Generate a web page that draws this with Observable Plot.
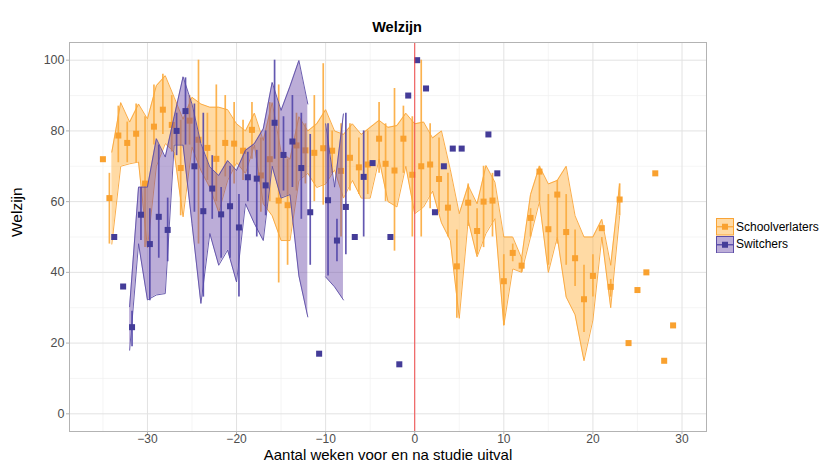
<!DOCTYPE html>
<html>
<head>
<meta charset="utf-8">
<script src="https://cdn.jsdelivr.net/npm/d3@7"></script>
<script src="https://cdn.jsdelivr.net/npm/@observablehq/plot@0.6"></script>
<style>
  body { margin: 0; background: #fff; }
  #wrap { position: relative; width: 820px; height: 466px; font-family: "Liberation Sans", Arial, Helvetica, sans-serif; }
  #wrap svg { display: block; }
  #legend { position: absolute; left: 716px; top: 218px; font-size: 12px; color: #000; }
  #legend .row { display: flex; align-items: center; height: 17.5px; }
  #legend .row svg { margin-right: 2px; }
</style>
</head>
<body>
<div id="wrap"><div id="legend"></div></div>
<script>
// ---- Schoolverlaters: one entry per week from -35 to 29 ----
const weeksS = [-35,-34,-33,-32,-31,-30,-29,-28,-27,-26,-25,-24,-23,-22,-21,-20,-19,-18,-17,-16,
  -15,-14,-13,-12,-11,-10,-9,-8,-7,-6,-5,-4,-3,-2,-1,0,1,2,3,4,
  5,6,7,8,9,10,11,12,13,14,15,16,17,18,19,20,21,22,23,24,25,26,27,28,29];
const meanS = [72,61,78.7,76.6,79.2,65.1,81.2,86,81.7,69.5,82.9,77.5,75.2,72.1,76.6,76.4,74.4,80.3,67.4,72,
  60.3,59,75.9,74.5,73.8,75.1,74.4,68.7,72.4,69.7,70.5,77.8,70.7,68.8,77.8,67.6,70,70.5,66.4,58.3,
  41.7,59.7,51.7,60,60.3,37.5,45.5,41.9,55.4,68.5,52.2,62,51.4,44,32.4,39,52.5,35.9,60.6,20,35,40,68,15,25];
const barLoS = [null,48,71,71,71,47,76,79,74,56,76,48,66,60,67,65,66,72,57,60,
  37,42,63,65,60,59,68,50,63,62,62,68,60,46,68,50,50,58,57,50,
  27,53,45,47,50,25,43,40,50,60,42,48,42,36,23,33,null,33,56,null,null,null,null,null,null];
const barHiS = [null,68,87,82.5,87.6,84,93,96,90,83,90,100,85,93,90,88,83,88,78,88,
  93,72,85,82,90,99,80,82,82,78,80,88,82,92,87,84,100,82,78,68,
  52,65,58,70,68,45,48,44,58,70,62,66,62,52,42,45,null,38,65,null,null,null,null,null,null];
const ribLoS = [null,48,70,70.7,71.2,47,70,76.4,74,55.7,75.4,68.8,64,57,66,71,68,76,59.4,56,
  49,49,66,68,64,65,69,61,66,61,61,72,60,58.5,70,56.6,58.5,63,54,49,
  27,54.7,44.4,51,55.2,25,41,40,50,60,40,50,33,28,15,26.5,50,30,56,null,null,null,null,null,null];
const ribHiS = [null,74,88,82.5,87.6,83.4,92.8,95.6,89.5,83.3,89.5,87.6,86.7,86.7,86,82,80,85,77.3,88,
  74,72,84,80,82,86,80,79,82,79,81,83,81,81.5,85,82,82.5,78,80,69,
  56.6,64.6,59.4,70.2,65.5,50,50,44,62,70,65,66,70,56,50,50,55,42,65,null,null,null,null,null,null];

// ---- Switchers ----
const weeksW = [-34,-33,-32,-31,-30,-29,-28,-27,-26,-25,-24,-23,-22,-21,-20,-19,-18,-17,-16,-15,
  -14,-13,-12,-11,-10,-9,-8,-7,-6,-5,-3,-2,-1,0,1,2,3,4,5,8,9];
const meanW = [50,36,24.5,56.3,48,55.7,52,80,85.6,70,57.3,63.7,56.4,58.7,52.7,66.9,66.5,64.6,82.3,73.2,
  77,69.5,57,17,60.4,49,58.5,50,67,70.9,50,14,90,100,92,57,70,75,75,79,68];
const barLoW = [null,null,19,49,32,44,43,73,76,57,33,55,44,44,33,60,50,56,72,63,
  64,55,42,null,39,43,45,null,50,null,null,null,null,null,null,null,null,null,null,null,null];
const barHiW = [null,null,29,64,58,76,61,85,95,87.6,85,73,64,70,62,74,74.5,80,100,84,
  90,85,79,null,82,55,85,null,80,null,null,null,null,null,null,null,null,null,null,null,null];
const ribLoW = [null,null,18,48.1,32.2,33.6,34,76,76,53.8,31.2,51,42,46.3,37.3,59.4,53.8,49,70,61,
  62,39,27.4,null,38.7,35.9,32.2,null,null,null,null,null,null,null,null,null,null,null,null,null,null];
const ribHiW = [null,null,30.3,64.1,64.1,77.8,72.6,84,95.3,87.6,76.4,69.8,67.4,71.6,68.8,74.5,76.4,80.6,93.7,85.8,
  92.6,99.9,87.6,null,82,64.1,84.8,null,null,null,null,null,null,null,null,null,null,null,null,null,null];

// ---- axes ----
const xTicks = [-30,-20,-10,0,10,20,30];
const xMinor = [-35,-25,-15,-5,5,15,25];
const yTicks = [0,20,40,60,80,100];
const yMinor = [10,30,50,70,90];

const groups = ["Schoolverlaters", "Switchers"];
const colors = {
  Schoolverlaters: {point: "#f9a12f", bar: "#fbaa3c", fill: "#ffa726", line: "#f9a436", opacity: 0.42},
  Switchers: {point: "#443c98", bar: "#5246a8", fill: "#6a4aa8", line: "#5b4ca6", opacity: 0.45}
};

// side-by-side offset within a week when both groups are present
const dodge = 0.27;
const setW = new Set(weeksW);
const school = weeksS.map((w, i) => ({
  week: w, xpos: w + (setW.has(w) ? -dodge : 0),
  mean: meanS[i], lo: barLoS[i], hi: barHiS[i], rlo: ribLoS[i], rhi: ribHiS[i]
}));
const switchers = weeksW.map((w, i) => ({
  week: w, xpos: w + dodge,
  mean: meanW[i], lo: barLoW[i], hi: barHiW[i], rlo: ribLoW[i], rhi: ribHiW[i]
}));

function groupMarks(data, c) {
  return [
    Plot.areaY(data, {x: "week", y1: "rlo", y2: "rhi", fill: c.fill, fillOpacity: c.opacity}),
    Plot.lineY(data, {x: "week", y: "rhi", stroke: c.line, strokeWidth: 1, strokeOpacity: 0.9}),
    Plot.lineY(data, {x: "week", y: "rlo", stroke: c.line, strokeWidth: 1, strokeOpacity: 0.9}),
    Plot.ruleX(data, {filter: d => d.lo != null && d.hi != null, x: "xpos", y1: "lo", y2: "hi",
      stroke: c.bar, strokeWidth: 1.7, strokeOpacity: 0.9}),
    Plot.dot(data, {x: "xpos", y: "mean", symbol: "square", r: 3.4, fill: c.point, stroke: "none"})
  ];
}

const chart = Plot.plot({
  width: 820,
  height: 466,
  marginLeft: 69,
  marginRight: 114,
  marginTop: 42,
  marginBottom: 35,
  x: {domain: [-38.75, 32.75]},
  y: {domain: [-5, 105]},
  style: {fontFamily: "'Liberation Sans', Arial, Helvetica, sans-serif", background: "#fff", overflow: "visible"},
  marks: [
    Plot.gridX(xMinor, {stroke: "#f0f0f0", strokeOpacity: 1, strokeWidth: 0.7}),
    Plot.gridY(yMinor, {stroke: "#f0f0f0", strokeOpacity: 1, strokeWidth: 0.7}),
    Plot.gridX(xTicks, {stroke: "#e2e2e2", strokeOpacity: 1, strokeWidth: 1}),
    Plot.gridY(yTicks, {stroke: "#e2e2e2", strokeOpacity: 1, strokeWidth: 1}),
    ...groupMarks(school, colors.Schoolverlaters),
    ...groupMarks(switchers, colors.Switchers),
    Plot.ruleX([0], {stroke: "#f2494a", strokeWidth: 1}),
    Plot.frame({stroke: "#b3b3b3", strokeWidth: 1}),
    Plot.axisX(xTicks, {tickSize: 3, tickPadding: 0, fontSize: 12, stroke: "#b3b3b3", fill: "#4d4d4d", label: null}),
    Plot.axisY(yTicks, {tickSize: 3, tickPadding: 2, fontSize: 12.5, stroke: "#b3b3b3", fill: "#4d4d4d", label: null}),
    Plot.text(["Welzijn"], {text: d => d, frameAnchor: "top", dy: -21, dx: 9, fontSize: 14.5, fontWeight: "bold", fill: "#000"}),
    Plot.text(["Aantal weken voor en na studie uitval"], {text: d => d, frameAnchor: "bottom", dy: 28.5, fontSize: 15, fill: "#000"}),
    Plot.text(["Welzijn"], {text: d => d, frameAnchor: "left", rotate: -90, dx: -52, fontSize: 15.5, fill: "#000"})
  ]
});

document.getElementById("wrap").prepend(chart);

// legend keys: ribbon box, bar line and point for each group
const legend = d3.select("#legend");
groups.forEach(g => {
  const c = colors[g];
  const row = legend.append("div").attr("class", "row");
  const svg = row.append("svg").attr("width", 18).attr("height", 17.5);
  svg.append("rect").attr("x", 0.5).attr("y", 0.5).attr("width", 17).attr("height", 16.5)
    .attr("fill", c.fill).attr("fill-opacity", c.opacity)
    .attr("stroke", c.line).attr("stroke-width", 1);
  svg.append("line").attr("x1", 1).attr("x2", 17).attr("y1", 8.75).attr("y2", 8.75)
    .attr("stroke", c.bar).attr("stroke-width", 1.3);
  svg.append("rect").attr("x", 6).attr("y", 5.75).attr("width", 6).attr("height", 6).attr("fill", c.point);
  row.append("span").text(g);
});
</script>
</body>
</html>
